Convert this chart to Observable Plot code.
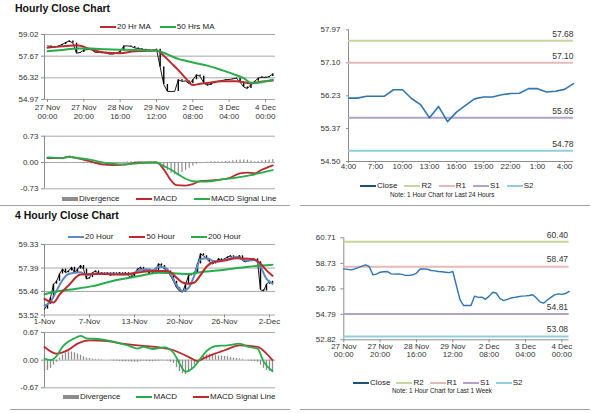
<!DOCTYPE html>
<html><head><meta charset="utf-8">
<script src="https://cdn.jsdelivr.net/npm/d3@7"></script>
<script src="https://cdn.jsdelivr.net/npm/@observablehq/plot@0.6"></script>
<style>
body{margin:0;background:#fff;font-family:"Liberation Sans",Arial,sans-serif;}
#root{position:relative;width:600px;height:413px;overflow:hidden;background:#fff;}
.title{font-weight:bold;font-size:10.5px;color:#111;white-space:nowrap;}
.legend{position:absolute;display:flex;align-items:center;font-size:8px;color:#222;white-space:nowrap;height:10px;line-height:10px;}
.legend .it{display:flex;align-items:center;}
.legend .sw{display:inline-block;width:16px;height:2.5px;margin-right:1px;}
.legend .bar{display:inline-block;width:16px;height:4px;margin-right:1px;background:#8c8c8c;}
.note{position:absolute;font-size:6.4px;color:#222;white-space:nowrap;}
.sep{position:absolute;height:1px;background:#a0a0a0;}
svg{overflow:visible;}
</style></head><body><div id="root"></div>
<script>
// ---------------- DATA ----------------
// Hourly close, every 2 hours starting 27 Nov 00:00 (last 1 week, trading hours)
const hourlyStep = 2;
const hourlyClose = [58.31,58.27,58.23,58.3,58.4,58.52,58.62,58.48,57.85,57.9,58.05,58.08,58.1,57.92,57.9,57.92,57.88,57.8,57.8,57.85,57.97,58.3,58.31,58.28,58.18,58.15,58.1,58.08,58.05,58.02,58.1,57.0,55.9,55.47,55.47,55.47,56.2,56.1,56.12,55.95,56.2,56.5,56.42,56.0,55.85,55.95,56.05,56.1,56.15,56.2,56.22,56.25,56.3,56.05,55.75,55.65,55.9,56.1,56.3,56.37,56.33,56.4,56.56];
const hourlyTickIdx = [0,20,40,60,80,100,120];
const hourlyTickLabels = ["27 Nov\n00:00","27 Nov\n20:00","28 Nov\n16:00","29 Nov\n12:00","2 Dec\n08:00","3 Dec\n04:00","4 Dec\n00:00"];
const hourlyPriceTicks = [54.97,56.32,57.67,59.02];
const hourlyMaIdx = [0,8,16,24,32,40,48,56,60,64,68,72,76,80,84,88,96,104,108,112,116,120,124];
const ma20Hr = [58.2,58.28,58.35,58.1,57.88,57.85,57.98,58.0,58.02,57.7,57.25,56.8,56.3,55.87,55.95,56.0,56.1,56.1,56.05,55.97,56.05,56.1,56.15];
const ma50Hrs = [57.98,58.05,58.15,58.15,58.1,58.07,58.05,58.03,58.02,57.88,57.68,57.5,57.38,57.27,57.18,57.08,56.8,56.48,56.3,56.02,56.02,56.1,56.2];
const hourlyMacdIdx = [0,8,12,16,22,30,36,44,50,60,61,64,68,71,76,80,84,92,100,106,110,114,118,124];
const hourlyMacd = [0.12,0.12,0.16,0.12,0.05,-0.05,-0.07,-0.05,0.0,0.0,-0.02,-0.19,-0.5,-0.63,-0.64,-0.6,-0.52,-0.49,-0.43,-0.3,-0.28,-0.3,-0.2,-0.08];
const hourlySignalIdx = [0,8,12,16,24,32,40,48,56,60,64,68,72,76,80,84,90,96,104,112,118,124];
const hourlySignal = [0.14,0.12,0.16,0.13,0.07,-0.01,-0.05,-0.03,0.0,0.0,-0.1,-0.2,-0.33,-0.45,-0.52,-0.53,-0.52,-0.47,-0.42,-0.35,-0.28,-0.21];
const hourlyDivergence = [-0.02,-0.01,0,0,0,0.01,0,-0.01,-0.01,-0.02,-0.03,-0.03,-0.04,-0.05,-0.05,-0.05,-0.05,-0.04,-0.03,-0.02,-0.01,0.01,0.02,0.02,0.02,0.01,0.01,0,0,0,0,-0.05,-0.12,-0.22,-0.3,-0.34,-0.33,-0.28,-0.22,-0.16,-0.1,-0.05,-0.02,0,0.01,0.02,0.02,0.02,0.02,0.03,0.03,0.05,0.06,0.07,0.07,0.06,0.04,0.02,0.03,0.05,0.06,0.07,0.08];
const hourlyMacdTicks = [-0.73,0,0.73];

// Last 24 hours, hourly close
const dayClose = [56.17,56.17,56.22,56.22,56.22,56.39,56.39,56.16,56.0,55.65,55.95,55.55,55.8,55.98,56.15,56.2,56.2,56.26,56.29,56.3,56.42,56.42,56.33,56.35,56.4,56.55];
const dayTickIdx = [0,3,6,9,12,15,18,21,24];
const dayTickLabels = ["4:00","7:00","10:00","13:00","16:00","19:00","22:00","1:00","4:00"];
const dayPriceTicks = [54.50,55.37,56.23,57.10,57.97];
const levelNames = ["R2","R1","S1","S2"];
const dayLevels = [57.68,57.10,55.65,54.78];
const weekLevels = [60.40,58.47,54.81,53.08];
const weekPriceTicks = [52.82,54.79,56.76,58.73,60.71];

// 4 hourly chart (sampled bars from 1 Nov)
const fourClose = [54.0,54.4,54.95,56.06,56.3,56.9,57.3,57.0,57.15,57.45,57.0,57.3,57.6,57.3,56.48,56.6,57.0,57.15,56.9,57.0,56.9,57.0,56.75,57.0,56.9,57.0,56.9,57.0,56.75,56.6,57.0,57.3,57.45,57.15,57.3,56.9,57.0,57.15,57.73,57.6,57.3,57.15,56.75,56.3,55.78,55.5,55.4,56.05,56.75,56.9,57.0,57.73,58.56,58.4,58.15,57.9,57.73,57.9,58.15,58.0,58.15,58.3,58.4,58.15,58.3,58.4,58.0,57.9,58.0,58.15,58.15,57.9,55.6,55.5,56.06,56.3,56.06];
const fourTickIdx = [0,15,30,45,60,75];
const fourTickLabels = ["1-Nov","7-Nov","13-Nov","20-Nov","26-Nov","2-Dec"];
const fourPriceTicks = [53.52,55.46,57.39,59.33];
const ma20HourIdx = [0,2,4,6,8,10,12,14,16,20,24,28,30,32,34,36,38,40,42,44,46,48,50,52,54,56,58,60,62,64,66,68,70,72,74,76];
const ma20Hour = [54.3,54.6,55.5,56.4,56.9,57.0,57.05,56.8,56.9,56.95,56.9,56.85,57.0,57.25,57.3,57.2,57.5,57.45,56.9,56.0,55.5,55.75,56.8,58.1,58.2,58.0,57.95,58.05,58.2,58.3,58.1,58.0,58.05,57.5,56.5,56.1];
const ma50HourIdx = [0,3,5,8,12,16,20,24,28,32,36,40,42,44,46,48,50,52,54,56,60,64,68,70,72,74,76];
const ma50Hour = [54.85,54.55,55.2,55.95,56.85,56.9,56.9,56.85,56.9,57.05,57.15,57.15,57.05,56.6,56.2,56.1,56.2,56.8,57.5,57.85,58.0,58.2,58.15,58.1,57.75,57.2,56.75];
const ma200HourIdx = [0,4,8,16,24,32,38,44,48,52,60,68,76];
const ma200Hour = [55.23,55.45,55.6,55.9,56.4,56.75,57.0,56.95,56.9,57.05,57.25,57.5,57.67];
const fourMacdIdx = [0,2,4,6,8,10,12,14,16,20,24,28,31,33,36,40,43,45,47,50,52,54,57,61,65,68,71,73,76];
const fourMacd = [0.04,0.0,0.1,0.32,0.45,0.53,0.59,0.53,0.52,0.49,0.43,0.35,0.28,0.32,0.27,0.31,0.18,-0.08,-0.28,-0.15,0.04,0.22,0.34,0.36,0.4,0.32,0.28,-0.03,-0.27];
const fourSignalIdx = [0,4,8,11,15,21,26,32,37,43,48,51,54,60,65,71,74,76];
const fourSignal = [0.32,0.16,0.25,0.4,0.48,0.46,0.4,0.35,0.32,0.24,0.08,-0.02,0.08,0.24,0.36,0.32,0.16,0.0];
const fourDivergence = [-0.28,-0.25,-0.2,-0.12,-0.05,0.05,0.12,0.16,0.2,0.2,0.18,0.15,0.12,0.08,0.05,0.04,0.03,0.02,0.02,0.01,0,0,-0.01,-0.02,-0.02,-0.03,-0.04,-0.04,-0.04,-0.05,-0.05,-0.05,-0.03,-0.02,-0.03,-0.04,-0.04,-0.03,-0.02,-0.01,0,-0.02,-0.05,-0.08,-0.18,-0.28,-0.33,-0.35,-0.3,-0.22,-0.12,-0.04,0.05,0.1,0.13,0.14,0.13,0.12,0.1,0.1,0.09,0.08,0.06,0.05,0.04,0.03,0.02,0,-0.02,-0.03,-0.04,-0.05,-0.12,-0.2,-0.25,-0.27,-0.28];
const fourMacdTicks = [-0.67,0,0.67];

// ---------------- STYLE ----------------
const C = {
  red:"#c0282d", green:"#25ad4a", blue:"#5b8ac4", grid:"#a8a8a8", axis:"#8c8c8c",
  div:"#8c8c8c", close:"#2e75b6", closeLegend:"#1f4e79",
  levels:{R2:"#c3d69b",R1:"#e6b9b8",S1:"#b3a2c7",S2:"#93cddd"}
};
const FONT = "'Liberation Sans', Arial, sans-serif";
const root = document.getElementById("root");

function place(el, left, top){ el.style.position="absolute"; el.style.left=left+"px"; el.style.top=top+"px"; root.appendChild(el); return el; }
function pts(idx, vals){ return idx.map((x,i)=>({x, v:vals[i]})); }
function stepRows(vals, step){ return vals.map((v,i)=>({x:i*step, v, p: i? vals[i-1] : v})); }
const fmt2 = d => d.toFixed(2);
const labelOf = (ticks, labels) => { const m = new Map(ticks.map((t,i)=>[t,labels[i]])); return d => m.get(d); };
const baseStyle = {fontFamily:FONT, fontSize:"8px", color:"#333", background:"transparent", overflow:"visible"};
const ax = {label:null};

// ---- Panel A: hourly close with MAs
const aXDom = [-1.65, 125.5];
place(Plot.plot({
  width:300, height:124, marginLeft:44, marginRight:25, marginTop:34, marginBottom:25,
  style:baseStyle,
  x:{domain:aXDom, label:null}, y:{domain:[hourlyPriceTicks[0], hourlyPriceTicks[hourlyPriceTicks.length-1]], label:null},
  marks:[
    Plot.gridY(hourlyPriceTicks,{stroke:C.grid, strokeOpacity:1}),
    Plot.ruleX([aXDom[0]],{stroke:C.axis}),
    Plot.axisY(hourlyPriceTicks,{...ax, tickFormat:fmt2, tickSize:3, tickPadding:3, stroke:C.axis}),
    Plot.axisX(hourlyTickIdx,{...ax, tickFormat:labelOf(hourlyTickIdx,hourlyTickLabels), tickSize:3, tickPadding:2, lineHeight:1.05, stroke:C.axis}),
    Plot.line(stepRows(hourlyClose,hourlyStep),{x:"x", y:"v", stroke:"#000", strokeWidth:0.9}),
    Plot.ruleX(stepRows(hourlyClose,hourlyStep),{x:"x", y1:"p", y2:"v", stroke:"#000", strokeWidth:1.4}),
    Plot.line(pts(hourlyMaIdx,ma20Hr),{x:"x", y:"v", stroke:C.red, strokeWidth:2, curve:"monotone-x"}),
    Plot.line(pts(hourlyMaIdx,ma50Hrs),{x:"x", y:"v", stroke:C.green, strokeWidth:2, curve:"monotone-x"})
  ]
}), 0, 0);

// ---- Panel B: hourly MACD
place(Plot.plot({
  width:300, height:70, marginLeft:44, marginRight:25, marginTop:11.7, marginBottom:5.7,
  style:baseStyle,
  x:{domain:aXDom, axis:null, label:null}, y:{domain:[hourlyMacdTicks[0], hourlyMacdTicks[2]], label:null},
  marks:[
    Plot.gridY(hourlyMacdTicks,{stroke:C.grid, strokeOpacity:1}),
    Plot.ruleX([aXDom[0]],{stroke:C.axis}),
    Plot.axisY(hourlyMacdTicks,{...ax, tickFormat:fmt2, tickSize:3, tickPadding:3, stroke:C.axis}),
    Plot.ruleX(hourlyDivergence.map((v,i)=>({x:i*hourlyStep, v})),{x:"x", y1:0, y2:"v", stroke:C.div, strokeWidth:1.2}),
    Plot.line(pts(hourlyMacdIdx,hourlyMacd),{x:"x", y:"v", stroke:C.red, strokeWidth:1.8, curve:"monotone-x"}),
    Plot.line(pts(hourlySignalIdx,hourlySignal),{x:"x", y:"v", stroke:C.green, strokeWidth:1.8, curve:"monotone-x"})
  ]
}), 0, 124);

// ---- Panel E: last 24 hours with pivots
const eXDom = [0, dayClose.length-1];
const dayLv = levelNames.map((n,i)=>({n, v:dayLevels[i]}));
place(Plot.plot({
  width:300, height:175, marginLeft:48, marginRight:27, marginTop:29.3, marginBottom:14,
  style:baseStyle,
  x:{domain:eXDom, label:null}, y:{domain:[dayPriceTicks[0], dayPriceTicks[dayPriceTicks.length-1]], label:null},
  marks:[
    Plot.ruleX([eXDom[0]],{stroke:C.axis}),
    Plot.ruleY([dayPriceTicks[0]],{stroke:C.axis}),
    Plot.axisY(dayPriceTicks,{...ax, tickFormat:fmt2, tickSize:2, tickPadding:6, stroke:C.axis}),
    Plot.axisX(dayTickIdx,{...ax, tickFormat:labelOf(dayTickIdx,dayTickLabels), tickSize:2, tickPadding:0, stroke:C.axis}),
    ...dayLv.map(l=>Plot.ruleY([l.v],{stroke:C.levels[l.n], strokeWidth:2})),
    Plot.text(dayLv,{y:"v", text:d=>fmt2(d.v), frameAnchor:"right", textAnchor:"end", dy:-6.5, fontSize:8.5, fill:"#333"}),
    Plot.line(dayClose.map((v,i)=>({x:i, v})),{x:"x", y:"v", stroke:C.close, strokeWidth:1.6})
  ]
}), 300, 0);

// ---- Panel C: 4 hourly close with MAs
const cXDom = [0, 77];
place(Plot.plot({
  width:300, height:104, marginLeft:44, marginRight:25, marginTop:20, marginBottom:13.5,
  style:baseStyle,
  x:{domain:cXDom, label:null}, y:{domain:[fourPriceTicks[0], fourPriceTicks[fourPriceTicks.length-1]], label:null},
  marks:[
    Plot.gridY(fourPriceTicks,{stroke:C.grid, strokeOpacity:1}),
    Plot.ruleX([cXDom[0]],{stroke:C.axis}),
    Plot.axisY(fourPriceTicks,{...ax, tickFormat:fmt2, tickSize:3, tickPadding:3, stroke:C.axis}),
    Plot.axisX(fourTickIdx,{...ax, tickFormat:labelOf(fourTickIdx,fourTickLabels), tickSize:3, tickPadding:0, stroke:C.axis}),
    Plot.line(stepRows(fourClose,1),{x:"x", y:"v", stroke:"#000", strokeWidth:0.9}),
    Plot.ruleX(stepRows(fourClose,1),{x:"x", y1:"p", y2:"v", stroke:"#000", strokeWidth:1.4}),
    Plot.line(pts(ma20HourIdx,ma20Hour),{x:"x", y:"v", stroke:C.blue, strokeWidth:2, curve:"monotone-x"}),
    Plot.line(pts(ma200HourIdx,ma200Hour),{x:"x", y:"v", stroke:C.green, strokeWidth:2, curve:"monotone-x"}),
    Plot.line(pts(ma50HourIdx,ma50Hour),{x:"x", y:"v", stroke:C.red, strokeWidth:2, curve:"monotone-x"})
  ]
}), 0, 224);

// ---- Panel D: 4 hourly MACD
place(Plot.plot({
  width:300, height:64, marginLeft:44, marginRight:25, marginTop:4, marginBottom:4.7,
  style:baseStyle,
  x:{domain:cXDom, axis:null, label:null}, y:{domain:[fourMacdTicks[0], fourMacdTicks[2]], label:null},
  marks:[
    Plot.gridY(fourMacdTicks,{stroke:C.grid, strokeOpacity:1}),
    Plot.ruleX([cXDom[0]],{stroke:C.axis}),
    Plot.axisY(fourMacdTicks,{...ax, tickFormat:fmt2, tickSize:3, tickPadding:3, stroke:C.axis}),
    Plot.ruleX(fourDivergence.map((v,i)=>({x:i, v})),{x:"x", y1:0, y2:"v", stroke:C.div, strokeWidth:1.3}),
    Plot.line(pts(fourSignalIdx,fourSignal),{x:"x", y:"v", stroke:C.red, strokeWidth:1.8, curve:"monotone-x"}),
    Plot.line(pts(fourMacdIdx,fourMacd),{x:"x", y:"v", stroke:C.green, strokeWidth:1.8, curve:"monotone-x"})
  ]
}), 0, 328);

// ---- Panel F: last week with pivots
const fXDom = [0, (hourlyClose.length-1)*hourlyStep];
const weekLv = levelNames.map((n,i)=>({n, v:weekLevels[i]}));
place(Plot.plot({
  width:300, height:142, marginLeft:43.3, marginRight:31.4, marginTop:13.3, marginBottom:26.7,
  style:baseStyle,
  x:{domain:fXDom, label:null}, y:{domain:[weekPriceTicks[0], weekPriceTicks[weekPriceTicks.length-1]], label:null},
  marks:[
    Plot.ruleX([fXDom[0]],{stroke:C.axis}),
    Plot.ruleY([weekPriceTicks[0]],{stroke:C.axis}),
    Plot.axisY(weekPriceTicks,{...ax, tickFormat:fmt2, tickSize:3, tickPadding:5, stroke:C.axis}),
    Plot.axisX(hourlyTickIdx,{...ax, tickFormat:labelOf(hourlyTickIdx,hourlyTickLabels), tickSize:3, tickPadding:1, lineHeight:1.0, stroke:C.axis}),
    ...weekLv.map(l=>Plot.ruleY([l.v],{stroke:C.levels[l.n], strokeWidth:2})),
    Plot.text(weekLv,{y:"v", text:d=>fmt2(d.v), frameAnchor:"right", textAnchor:"end", dx:-1, dy:-7, fontSize:8.5, fill:"#333"}),
    Plot.line(stepRows(hourlyClose,hourlyStep),{x:"x", y:"v", stroke:C.close, strokeWidth:1.4})
  ]
}), 300, 224);

// ---------------- HTML text: titles, legends, notes, separators ----------------
function div(cls, html, left, top){ const d=document.createElement("div"); d.className=cls; d.innerHTML=html; d.style.position="absolute"; d.style.left=left+"px"; d.style.top=top+"px"; root.appendChild(d); return d; }
function legend(items, left, cy, gap){
  const d=document.createElement("div"); d.className="legend"; d.style.left=left+"px"; d.style.top=(cy-5)+"px"; d.style.gap=gap+"px";
  d.innerHTML = items.map(it=> `<span class="it"><span class="${it.bar?'bar':'sw'}" style="${it.bar?'':'background:'+it.c}"></span>${it.t}</span>`).join("");
  root.appendChild(d);
}
div("title","Hourly Close Chart",15,2);
div("title","4 Hourly Close Chart",15,209);
legend([{t:"20 Hr MA",c:C.red},{t:"50 Hrs MA",c:C.green}],100,27,9);
legend([{t:"Divergence",bar:true},{t:"MACD",c:C.red},{t:"MACD Signal Line",c:C.green}],62,199,17);
legend([{t:"20 Hour",c:C.blue},{t:"50 Hour",c:C.red},{t:"200 Hour",c:C.green}],68,237,16);
legend([{t:"Divergence",bar:true},{t:"MACD",c:C.green},{t:"MACD Signal Line",c:C.red}],63,397,16);
legend([{t:"Close",c:C.closeLegend}].concat(levelNames.map(n=>({t:n,c:C.levels[n]}))),360,186,7);
legend([{t:"Close",c:C.closeLegend}].concat(levelNames.map(n=>({t:n,c:C.levels[n]}))),353,383,6);
div("note","Note: 1 Hour Chart for Last 24 Hours",390,191);
div("note","Note: 1 Hour Chart for Last 1 Week",392,387);
const s1=div("sep","",0,205); s1.style.width="290px";
const s2=div("sep","",300,205); s2.style.width="290px";
const s3=div("sep","",10,409); s3.style.width="280px";
const s4=div("sep","",300,409); s4.style.width="290px";
</script>
</body></html>
